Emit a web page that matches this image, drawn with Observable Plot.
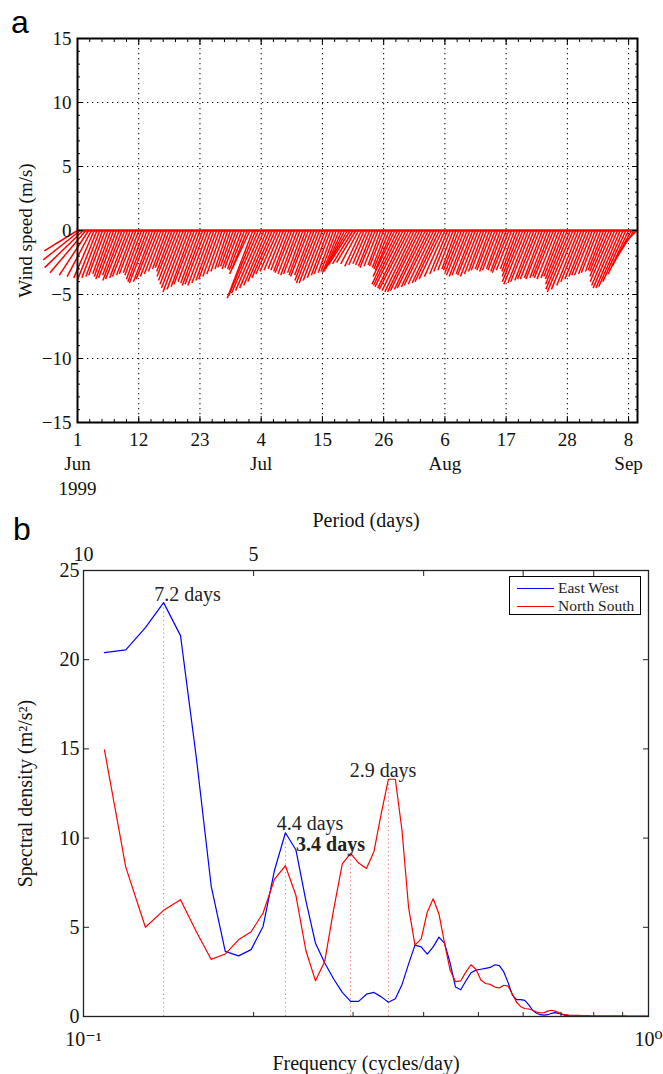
<!DOCTYPE html>
<html><head><meta charset="utf-8">
<script src="https://cdn.jsdelivr.net/npm/d3@7"></script>
<script src="https://cdn.jsdelivr.net/npm/@observablehq/plot@0.6"></script>
<style>
body{margin:0;background:#fff;}
#wrap{position:relative;width:663px;height:1074px;background:#fff;font-family:"Liberation Serif","Times New Roman",serif;}
#wrap svg{position:absolute;left:0;font-family:"Liberation Serif","DejaVu Serif",serif !important;}
#wrap svg text, #wrap svg g{font-family:"Liberation Serif","DejaVu Serif",serif !important;}
.panel{position:absolute;font-family:"Liberation Sans",Arial,sans-serif;font-size:32px;line-height:1;color:#000;}
#legend{position:absolute;left:509px;top:576px;width:130px;height:37px;border:1.5px solid #000;background:#fff;font-family:"Liberation Serif",serif;font-size:15.5px;color:#222;}
#legend .row{position:absolute;left:0;height:18px;display:flex;align-items:center;}
#legend .sw{display:inline-block;width:37px;height:0;border-top:1.2px solid;margin-left:7px;margin-right:4px;}
</style></head><body>
<div id="wrap">
  <div class="panel" style="left:11px;top:6px;">a</div>
  <div class="panel" style="left:13px;top:513px;">b</div>
  <div id="pa"></div>
  <div id="pb"></div>
  <div id="legend"></div>
</div>
<script>
const FONT = "Liberation Serif";
// ---------- Panel a: wind sticks (two samples per day from 1 Jun 1999) ----------
const sampleStepDays = 0.5;
const stickV = [
 -1.6,-2.3,-2.9,-3.3,-3.5,-3.6,-3.7,-3.8,-3.7,-3.6,-3.5,-3.4,-3.6,-3.8,-3.7,-3.5,-3.9,-3.8,-3.7,-3.6,
 -3.5,-3.4,-3.3,-3.5,-3.8,-4.0,-4.1,-4.0,-3.8,-3.6,-3.4,-3.2,-3.0,-2.9,-3.2,-3.6,-3.9,-4.2,-4.5,-4.8,
 -4.6,-4.4,-4.2,-4.0,-4.1,-4.3,-4.2,-4.3,-4.1,-3.9,-3.8,-3.6,-3.4,-3.2,-3.0,-2.9,-2.8,-3.0,-2.9,-3.0,
 -3.1,-3.0,-3.4,-5.3,-5.1,-4.9,-4.7,-4.5,-4.3,-4.0,-3.7,-3.4,-3.2,-3.1,-3.0,-3.1,-3.2,-3.3,-3.4,-3.5,
 -3.4,-3.3,-3.5,-3.6,-3.5,-3.9,-4.1,-4.1,-3.9,-3.7,-3.5,-3.4,-3.3,-3.2,-3.3,-3.2,-3.0,-2.8,-2.7,-2.6,
 -2.5,-2.6,-2.8,-2.7,-2.6,-2.7,-2.8,-2.9,-2.8,-2.7,-2.8,-2.9,-3.0,-3.1,-3.6,-4.2,-4.3,-4.4,-4.5,-4.6,
 -4.7,-4.8,-4.8,-4.7,-4.6,-4.5,-4.4,-4.3,-4.2,-4.1,-4.0,-3.8,-3.6,-3.4,-3.2,-3.1,-3.0,-3.1,-3.3,-3.5,
 -3.6,-3.5,-3.4,-3.5,-3.6,-3.4,-3.2,-3.1,-3.0,-3.1,-3.2,-3.1,-3.0,-3.1,-3.2,-3.3,-3.1,-3.0,-3.2,-3.6,
 -4.0,-4.2,-4.1,-4.0,-3.9,-3.8,-3.8,-3.7,-3.8,-3.7,-3.6,-3.7,-3.8,-3.7,-3.6,-3.8,-4.2,-4.6,-4.8,-4.6,
 -4.3,-4.0,-3.8,-3.6,-3.5,-3.5,-3.4,-3.3,-3.2,-3.1,-3.2,-3.6,-4.0,-4.3,-4.5,-4.5,-4.4,-4.0,-3.4,-2.8,
 -2.0,-1.0
];
const stickU = [
 -2.6,-2.9,-3.0,-2.8,-2.3,-1.9,-1.6,-1.5,-1.4,-1.3,-1.3,-1.2,-1.3,-1.4,-1.4,-1.3,-1.5,-1.5,-1.4,-1.4,
 -1.3,-1.3,-1.2,-1.3,-1.4,-1.5,-1.6,-1.5,-1.5,-1.4,-1.3,-1.2,-1.1,-1.1,-1.2,-1.4,-1.5,-1.6,-1.7,-1.8,
 -1.7,-1.6,-1.6,-1.5,-1.5,-1.6,-1.6,-1.6,-1.5,-1.4,-1.4,-1.3,-1.2,-1.1,-1.0,-1.0,-1.0,-1.1,-1.1,-1.1,
 -1.2,-1.2,-1.6,-2.0,-2.1,-2.1,-2.0,-1.9,-1.8,-1.7,-1.6,-1.5,-1.4,-1.3,-1.2,-1.2,-1.2,-1.3,-1.3,-1.3,
 -1.3,-1.2,-1.3,-1.4,-1.3,-1.5,-1.6,-1.6,-1.5,-1.4,-1.3,-1.3,-1.2,-1.2,-1.3,-1.4,-1.5,-1.6,-1.7,-1.6,
 -1.5,-1.4,-1.3,-1.2,-1.1,-1.1,-1.1,-1.2,-1.1,-1.0,-1.1,-1.1,-1.2,-1.3,-1.7,-2.0,-2.1,-2.2,-2.2,-2.3,
 -2.3,-2.3,-2.3,-2.3,-2.2,-2.2,-2.1,-2.1,-2.0,-1.9,-1.9,-1.8,-1.6,-1.4,-1.3,-1.2,-1.1,-1.2,-1.3,-1.4,
 -1.4,-1.4,-1.3,-1.4,-1.4,-1.3,-1.2,-1.2,-1.1,-1.2,-1.2,-1.2,-1.1,-1.2,-1.2,-1.3,-1.2,-1.1,-1.2,-1.4,
 -1.6,-1.7,-1.6,-1.6,-1.5,-1.5,-1.5,-1.4,-1.5,-1.4,-1.4,-1.5,-1.5,-1.4,-1.4,-1.5,-1.7,-1.9,-2.0,-1.9,
 -1.7,-1.6,-1.5,-1.4,-1.4,-1.4,-1.3,-1.3,-1.2,-1.2,-1.3,-1.5,-1.7,-1.8,-1.9,-1.9,-1.9,-1.8,-1.6,-1.5,
 -1.3,-1.0
];
const dayTickValues = [0, 11, 22, 33, 44, 55, 66, 77, 88, 99];
const dayTickLabels = ["1", "12", "23", "4", "15", "26", "6", "17", "28", "8"];
const monthDays = [0, 33, 66, 99];
const monthNames = ["Jun\n1999", "Jul", "Aug", "Sep"];
const windTicks = [-15, -10, -5, 0, 5, 10, 15];

// ---------- Panel b: spectra ----------
const freq = [
 .1089,.1188,.1287,.1386,.1485,.1584,.1683,.1782,.1881,.1980,
 .2079,.2178,.2277,.2376,.2475,.2574,.2673,.2772,.2871,.2970,
 .3069,.3168,.3267,.3366,.3465,.3564,.3663,.3762,.3861,.3960,
 .4059,.4158,.4257,.4356,.4455,.4554,.4653,.4752,.4851,.4950,
 .5050,.5149,.5248,.5347,.5446,.5545,.5644,.5743,.5842,.5941,
 .6040,.6139,.6238,.6337,.6436,.6535,.6634,.6733,.6832,.6931,
 .7030,.7129,.7228,.7327,.7426,.7525,.7624,.7723,.7822,.7921,
 .8020,.8119,.8218,.8317,.8416,.8515,.8614,.8713,.8812,.8911,
 .9010,.9109,.9208,.9307,.9406,.9505,.9604,.9703,.9802,.9901,1.0
];
const eastWest = [
 20.4,20.55,21.8,23.2,21.35,14.5,7.3,3.65,3.4,3.75,
 5.05,8.2,10.3,9.35,6.5,4.1,3.0,2.1,1.35,0.85,
 0.85,1.25,1.35,1.1,0.8,1.0,1.8,2.95,4.0,3.9,
 3.5,3.9,4.45,4.1,3.0,1.65,1.5,2.0,2.45,2.6,
 2.65,2.7,2.75,2.9,2.85,2.5,1.9,1.2,0.95,0.95,
 0.9,0.65,0.35,0.18,0.1,0.08,0.1,0.18,0.22,0.18,
 0.12,0.06,0.04,0.03,0.03,0.02,0.02,0.02,0.02,0.01,
 0.01,0.01,0.01,0.01,0.01,0.01,0.01,0.01,0.01,0.01,
 0.01,0.01,0.01,0.01,0.01,0.01,0.01,0.01,0.01,0.01,0.01
];
const northSouth = [
 14.95,8.37,5.0,5.95,6.55,4.75,3.2,3.5,4.3,4.75,
 5.8,7.7,8.45,6.8,3.7,2.0,3.1,6.0,8.55,9.15,
 8.6,8.3,9.25,11.4,13.3,13.3,10.4,6.1,4.0,4.35,
 5.85,6.6,5.75,4.1,2.6,1.95,2.0,2.5,2.9,2.65,
 2.05,1.85,1.8,1.65,1.6,1.75,1.7,1.25,0.8,0.55,
 0.45,0.42,0.35,0.25,0.2,0.22,0.3,0.35,0.3,0.22,
 0.14,0.1,0.08,0.07,0.06,0.06,0.05,0.05,0.05,0.04,
 0.04,0.04,0.04,0.03,0.03,0.03,0.03,0.03,0.03,0.03,
 0.03,0.03,0.02,0.02,0.02,0.02,0.02,0.02,0.02,0.02,0.02
];
const seriesNames = ["East West", "North South"];
const seriesColors = ["#0000ff", "#ff0000"];
const peakFreq = [0.1386, 0.2277, 0.2970, 0.3465];
const peakValue = [23.2, 10.3, 9.15, 13.3];
const labelText = ["7.2 days", "4.4 days", "3.4 days", "2.9 days"];
const labelFreq = [0.1528, 0.2517, 0.2736, 0.3390];
const labelValue = [23.65, 10.82, 9.64, 13.79];
const labelBold = [false, false, true, false];
const densityTicks = [0, 5, 10, 15, 20, 25];
const periodTickFreq = [0.1, 0.2];
const topTickFreq = [0.2, 0.4, 0.6, 0.8];
const logMinorFreq = [0.2, 0.3, 0.4, 0.5, 0.6, 0.7, 0.8, 0.9];

// ---------- build panel a ----------
const A = {width: 663, height: 500, ml: 77, mr: 26, mt: 38, mb: 78, xMax: 100.6, yMin: -15, yMax: 15};
const frameW = A.width - A.ml - A.mr, frameH = A.height - A.mt - A.mb;
const stickScale = (frameH / (A.yMax - A.yMin)) / (frameW / A.xMax); // days per m/s (equal aspect)
const sticks = stickV.map((v, i) => ({day: i * sampleStepDays, u: stickU[i], v}));
const months = monthDays.map((d, i) => ({day: d, name: monthNames[i]}));
const minorDays = d3.range(0, 100.6, 2.2);
const minorWind = d3.range(-15, 15.01, 1);
const fmtWind = d => d < 0 ? "\u2212" + (-d) : String(d);

const plotA = Plot.plot({
  width: A.width, height: A.height,
  marginLeft: A.ml, marginRight: A.mr, marginTop: A.mt, marginBottom: A.mb,
  style: {fontFamily: FONT, fontSize: "19px", background: "transparent", color: "#111", overflow: "visible"},
  x: {domain: [0, A.xMax]},
  y: {domain: [A.yMin, A.yMax]},
  marks: [
    Plot.gridY(windTicks, {stroke: "#000", strokeOpacity: 1, strokeDasharray: "1.3,3.7"}),
    Plot.gridX(dayTickValues, {stroke: "#000", strokeOpacity: 1, strokeDasharray: "1.3,3.7"}),
    Plot.link(sticks, {x1: "day", y1: () => 0, x2: d => d.day + d.u * stickScale, y2: "v", stroke: "#ff0000", strokeWidth: 1.5}),
    Plot.lineY(sticks, {x: "day", y: () => 0, stroke: "#ff0000", strokeWidth: 2.5}),
    Plot.axisY(windTicks, {anchor: "left", tickSize: 0, tickPadding: 6, tickFormat: fmtWind, fontSize: 19, fontFamily: FONT,
      label: "Wind speed (m/s)", labelAnchor: "center", labelArrow: "none", labelOffset: 59}),
    Plot.axisY(windTicks, {anchor: "left", tickSize: 6, dx: 6, fill: "none", stroke: "#000"}),
    Plot.axisY(windTicks, {anchor: "right", tickSize: 6, dx: -6, fill: "none", stroke: "#000"}),
    Plot.axisY(minorWind, {anchor: "left", tickSize: 3, dx: 3, fill: "none", stroke: "#000"}),
    Plot.axisY(minorWind, {anchor: "right", tickSize: 3, dx: -3, fill: "none", stroke: "#000"}),
    Plot.axisX(dayTickValues, {anchor: "bottom", tickSize: 0, tickPadding: 10, fontSize: 19, fontFamily: FONT,
      tickFormat: d => dayTickLabels[dayTickValues.indexOf(d)], label: null}),
    Plot.axisX(dayTickValues, {anchor: "bottom", tickSize: 6, dy: -6, fill: "none", stroke: "#000"}),
    Plot.axisX(dayTickValues, {anchor: "top", tickSize: 6, dy: 6, fill: "none", stroke: "#000"}),
    Plot.axisX(minorDays, {anchor: "bottom", tickSize: 3, dy: -3, fill: "none", stroke: "#000"}),
    Plot.axisX(minorDays, {anchor: "top", tickSize: 3, dy: 3, fill: "none", stroke: "#000"}),
    Plot.text(months, {x: "day", text: "name", frameAnchor: "bottom", lineAnchor: "top", dy: 30, lineHeight: 1.3, fontSize: 19, fontFamily: FONT, fill: "#111"}),
    Plot.frame({stroke: "#000", strokeWidth: 2})
  ]
});
plotA.style.top = "0px";
document.getElementById("pa").appendChild(plotA);

// ---------- build panel b ----------
const spectra = [];
seriesNames.forEach((name, s) => {
  const vals = s === 0 ? eastWest : northSouth;
  freq.forEach((f, i) => spectra.push({series: name, freq: f, value: vals[i]}));
});
const peaks = peakFreq.map((f, i) => ({freq: f, value: peakValue[i]}));
const labels = labelText.map((t, i) => ({text: t, freq: labelFreq[i], value: labelValue[i], bold: labelBold[i]}));

const plotB = Plot.plot({
  width: 663, height: 574,
  marginLeft: 83, marginRight: 15, marginTop: 70, marginBottom: 58,
  style: {fontFamily: FONT, fontSize: "20px", background: "transparent", color: "#111", overflow: "visible"},
  x: {type: "log", domain: [0.1, 1]},
  y: {domain: [0, 25]},
  color: {domain: seriesNames, range: seriesColors},
  marks: [
    Plot.ruleX(peaks, {x: "freq", y1: () => 0, y2: "value", stroke: "#ff6f6f", strokeWidth: 1, strokeDasharray: "1.2,3"}),
    Plot.line(spectra, {x: "freq", y: "value", z: "series", stroke: "series", strokeWidth: 1.2}),
    Plot.text(labels.filter(d => !d.bold), {x: "freq", y: "value", text: "text", fontSize: 20, fontFamily: FONT, fill: "#222"}),
    Plot.text(labels.filter(d => d.bold), {x: "freq", y: "value", text: "text", fontSize: 20, fontFamily: FONT, fontWeight: "bold", fill: "#222"}),
    Plot.axisY(densityTicks, {anchor: "left", tickSize: 0, tickPadding: 4, fontSize: 20, fontFamily: FONT,
      label: "Spectral density (m\u00b2/s\u00b2)", labelAnchor: "center", labelArrow: "none", labelOffset: 66}),
    Plot.axisY(densityTicks, {anchor: "left", tickSize: 6, dx: 6, fill: "none", stroke: "#222"}),
    Plot.axisY(densityTicks, {anchor: "right", tickSize: 6, dx: -6, fill: "none", stroke: "#222"}),
    Plot.axisX([0.1, 1], {anchor: "bottom", tickSize: 0, tickPadding: 15, fontSize: 20, fontFamily: FONT,
      tickFormat: d => d >= 1 ? "10\u2070" : "10\u207b\u00b9",
      label: "Frequency (cycles/day)", labelAnchor: "center", labelArrow: "none", labelOffset: 53}),
    Plot.axisX(logMinorFreq, {anchor: "bottom", tickSize: 4, dy: -4, fill: "none", stroke: "#222"}),
    Plot.axisX(periodTickFreq, {anchor: "top", tickSize: 0, tickPadding: 10, fontSize: 20, fontFamily: FONT,
      tickFormat: d => String(Math.round(1 / d)),
      label: "Period (days)", labelAnchor: "center", labelArrow: "none", labelOffset: 58}),
    Plot.axisX(topTickFreq, {anchor: "top", tickSize: 5, dy: 5, fill: "none", stroke: "#222"}),
    Plot.frame({stroke: "#222", strokeWidth: 1.3})
  ]
});
plotB.style.top = "500px";
document.getElementById("pb").appendChild(plotB);

// ---------- legend ----------
const legend = document.getElementById("legend");
seriesNames.forEach((name, i) => {
  const row = document.createElement("div");
  row.className = "row";
  row.style.top = (2 + i * 18) + "px";
  const sw = document.createElement("span");
  sw.className = "sw";
  sw.style.borderTopColor = seriesColors[i];
  const lab = document.createElement("span");
  lab.textContent = name;
  row.appendChild(sw); row.appendChild(lab);
  legend.appendChild(row);
});
</script>
</body></html>
